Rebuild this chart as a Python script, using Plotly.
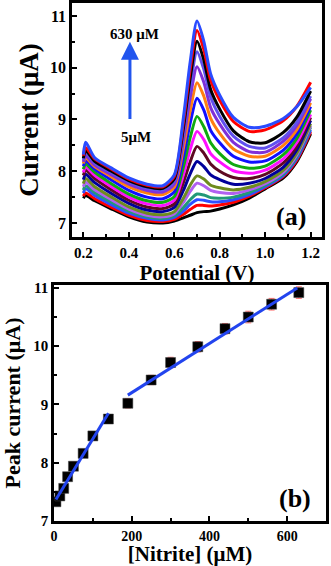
import plotly.graph_objects as go

# ---------------- Panel (a): DPV curves ----------------
potential = [0.20, 0.21, 0.25, 0.32, 0.40, 0.48, 0.55, 0.60, 0.64, 0.67, 0.70,
             0.73, 0.76, 0.80, 0.86, 0.93, 1.00, 1.08, 1.14, 1.20]

c_blank = [7.48, 7.53, 7.43, 7.28, 7.12, 7.02, 7.00, 7.04, 7.10, 7.15, 7.20, 7.22, 7.23, 7.27, 7.35, 7.48, 7.66, 7.87, 8.19, 8.72]
c_01 = [7.52, 7.58, 7.47, 7.31, 7.15, 7.05, 7.03, 7.07, 7.17, 7.26, 7.34, 7.34, 7.33, 7.35, 7.40, 7.52, 7.68, 7.90, 8.22, 8.76]
c_02 = [7.58, 7.66, 7.53, 7.36, 7.19, 7.09, 7.06, 7.11, 7.23, 7.36, 7.45, 7.44, 7.41, 7.41, 7.45, 7.55, 7.70, 7.92, 8.25, 8.80]
c_03 = [7.64, 7.72, 7.59, 7.41, 7.23, 7.12, 7.09, 7.14, 7.30, 7.45, 7.56, 7.54, 7.49, 7.48, 7.50, 7.59, 7.73, 7.95, 8.29, 8.85]
c_04 = [7.70, 7.79, 7.64, 7.46, 7.27, 7.15, 7.12, 7.18, 7.40, 7.61, 7.77, 7.72, 7.63, 7.59, 7.57, 7.64, 7.76, 7.98, 8.32, 8.88]
c_05 = [7.76, 7.86, 7.70, 7.51, 7.31, 7.19, 7.16, 7.22, 7.48, 7.73, 7.91, 7.85, 7.73, 7.68, 7.64, 7.69, 7.80, 8.02, 8.36, 8.92]
c_06 = [7.84, 7.94, 7.78, 7.58, 7.38, 7.25, 7.22, 7.30, 7.63, 7.95, 8.19, 8.09, 7.93, 7.84, 7.75, 7.77, 7.86, 8.08, 8.42, 8.98]
c_07 = [7.92, 8.02, 7.86, 7.65, 7.44, 7.31, 7.28, 7.37, 7.78, 8.18, 8.48, 8.35, 8.14, 8.00, 7.88, 7.86, 7.94, 8.16, 8.49, 9.04]
c_08 = [7.98, 8.08, 7.92, 7.71, 7.50, 7.37, 7.34, 7.44, 7.93, 8.42, 8.77, 8.61, 8.34, 8.18, 8.01, 7.96, 8.02, 8.24, 8.56, 9.10]
c_09 = [8.04, 8.14, 7.98, 7.77, 7.56, 7.43, 7.40, 7.51, 8.08, 8.65, 9.06, 8.86, 8.55, 8.34, 8.13, 8.06, 8.10, 8.32, 8.64, 9.18]
c_10 = [8.10, 8.20, 8.04, 7.84, 7.63, 7.50, 7.47, 7.60, 8.27, 8.93, 9.41, 9.18, 8.79, 8.55, 8.29, 8.18, 8.20, 8.41, 8.73, 9.25]
c_11 = [8.15, 8.26, 8.09, 7.90, 7.70, 7.58, 7.55, 7.69, 8.44, 9.17, 9.71, 9.45, 9.02, 8.73, 8.43, 8.29, 8.29, 8.50, 8.81, 9.32]
c_12 = [8.18, 8.30, 8.12, 7.94, 7.75, 7.63, 7.60, 7.75, 8.59, 9.42, 10.02, 9.72, 9.23, 8.91, 8.56, 8.38, 8.37, 8.58, 8.89, 9.40]
c_13 = [8.22, 8.36, 8.16, 7.98, 7.79, 7.67, 7.64, 7.81, 8.73, 9.64, 10.31, 9.97, 9.43, 9.06, 8.68, 8.48, 8.45, 8.65, 8.95, 9.45]
c_14 = [8.25, 8.40, 8.19, 8.01, 7.82, 7.70, 7.67, 7.85, 8.83, 9.80, 10.51, 10.15, 9.58, 9.20, 8.78, 8.57, 8.55, 8.75, 9.05, 9.55]
c_15 = [8.30, 8.46, 8.24, 8.05, 7.85, 7.73, 7.70, 7.90, 8.94, 9.97, 10.72, 10.35, 9.76, 9.37, 8.96, 8.77, 8.80, 8.98, 9.26, 9.72]
c_16 = [8.32, 8.56, 8.26, 8.07, 7.87, 7.75, 7.72, 7.93, 9.03, 10.11, 10.90, 10.51, 9.88, 9.47, 9.04, 8.85, 8.87, 9.02, 9.25, 9.62]

curves = [c_blank, c_01, c_02, c_03, c_04, c_05, c_06, c_07, c_08,
          c_09, c_10, c_11, c_12, c_13, c_14, c_15, c_16]
curve_colors = ["#000000", "#ff0000", "#2f4fff", "#229977", "#b060f0", "#6e8b1e",
                "#00009a", "#5e0a22", "#ff10ff", "#10aa10", "#1010ff", "#ff7f10",
                "#8030d8", "#6050ee", "#000000", "#ff0000", "#2a4bff"]

# ---------------- Panel (b): calibration ----------------
conc = [5, 15, 25, 35, 50, 75, 100, 140, 190, 250, 300, 370, 440, 500, 560, 630]
peak_current = [7.33, 7.43, 7.56, 7.76, 7.94, 8.16, 8.46, 8.75, 9.02, 9.42,
                9.72, 9.99, 10.30, 10.50, 10.72, 10.92]
peak_err = [0.06, 0.06, 0.06, 0.06, 0.07, 0.07, 0.07, 0.07, 0.08, 0.08,
            0.09, 0.09, 0.09, 0.1, 0.1, 0.1]
fit1_x = [5, 140]
fit1_y = [7.37, 8.85]
fit2_x = [190, 626]
fit2_y = [9.16, 11.0]

FONT = "Liberation Serif"

fig = go.Figure()
for ys, col in zip(curves, curve_colors):
    fig.add_trace(go.Scatter(x=potential, y=ys, mode="lines",
                             line=dict(color=col, width=3, shape="spline", smoothing=0.7),
                             xaxis="x", yaxis="y", showlegend=False, hoverinfo="skip"))

fig.add_trace(go.Scatter(x=conc, y=peak_current, mode="markers",
                         marker=dict(symbol="square", size=10, color="#000000",
                                     line=dict(color="#444444", width=0.5)),
                         error_y=dict(type="data", array=peak_err, color="#ff7070",
                                      thickness=1, width=3),
                         xaxis="x2", yaxis="y2", showlegend=False))
for fx, fy in [(fit1_x, fit1_y), (fit2_x, fit2_y)]:
    fig.add_trace(go.Scatter(x=fx, y=fy, mode="lines",
                             line=dict(color="#2244ee", width=3),
                             xaxis="x2", yaxis="y2", showlegend=False))

W, H = 331, 566
def dx(a, b):
    return [a / W, b / W]
def dy(top, bottom):
    return [1 - bottom / H, 1 - top / H]

def tfont(size):
    return dict(family=FONT, size=size, color="black", weight="bold")
axis_common = dict(showline=True, linewidth=2.5, linecolor="black", mirror=True,
                   ticks="inside", ticklen=5, tickwidth=2, tickcolor="black",
                   showgrid=False, zeroline=False, automargin=False)

fig.update_layout(
    width=W, height=H, margin=dict(l=0, r=0, t=0, b=0),
    paper_bgcolor="white", plot_bgcolor="white", showlegend=False,
    xaxis=dict(domain=dx(72, 322), anchor="y", range=[0.15, 1.25],
               tick0=0.2, dtick=0.2, tickformat=".1f", tickfont=tfont(15),
               minor=dict(ticks="inside", ticklen=3, dtick=0.1, tick0=0.2, tickcolor="black"),
               title=dict(text="Potential (V)", font=tfont(21), standoff=4),
               **axis_common),
    yaxis=dict(domain=dy(3, 237), anchor="x", range=[6.73, 11.25], dtick=1,
               tickfont=tfont(16),
               minor=dict(ticks="inside", ticklen=3, dtick=0.5, tickcolor="black"),
               title=dict(text="Current (μA)", font=tfont(27), standoff=4),
               **axis_common),
    xaxis2=dict(domain=dx(54, 326), anchor="y2", range=[0, 700], dtick=200,
                tickfont=tfont(14),
                minor=dict(ticks="inside", ticklen=3, dtick=100, tickcolor="black"),
                title=dict(text="[Nitrite] (μM)", font=tfont(21), standoff=4),
                **axis_common),
    yaxis2=dict(domain=dy(285, 521), anchor="x2", range=[7, 11.05], dtick=1,
                tickfont=tfont(15),
                minor=dict(ticks="inside", ticklen=3, dtick=0.5, tickcolor="black"),
                title=dict(text="Peak current (μA)", font=tfont(22), standoff=8),
                **axis_common),
    annotations=[
        dict(x=0.425, y=10.66, xref="x", yref="y", text="630 μM", showarrow=False,
             font=tfont(15)),
        dict(x=0.43, y=8.66, xref="x", yref="y", text="5μM", showarrow=False,
             font=tfont(15)),
        dict(x=0.405, y=10.5, ax=0.405, ay=8.98, xref="x", yref="y", axref="x", ayref="y",
             text="", showarrow=True, arrowhead=2, arrowsize=1.2, arrowwidth=3,
             arrowcolor="#2255ee"),
        dict(x=1.115, y=7.12, xref="x", yref="y", text="(a)", showarrow=False,
             font=tfont(26)),
        dict(x=620, y=7.38, xref="x2", yref="y2", text="(b)", showarrow=False,
             font=tfont(26)),
    ],
)

fig.write_html("out.html")
